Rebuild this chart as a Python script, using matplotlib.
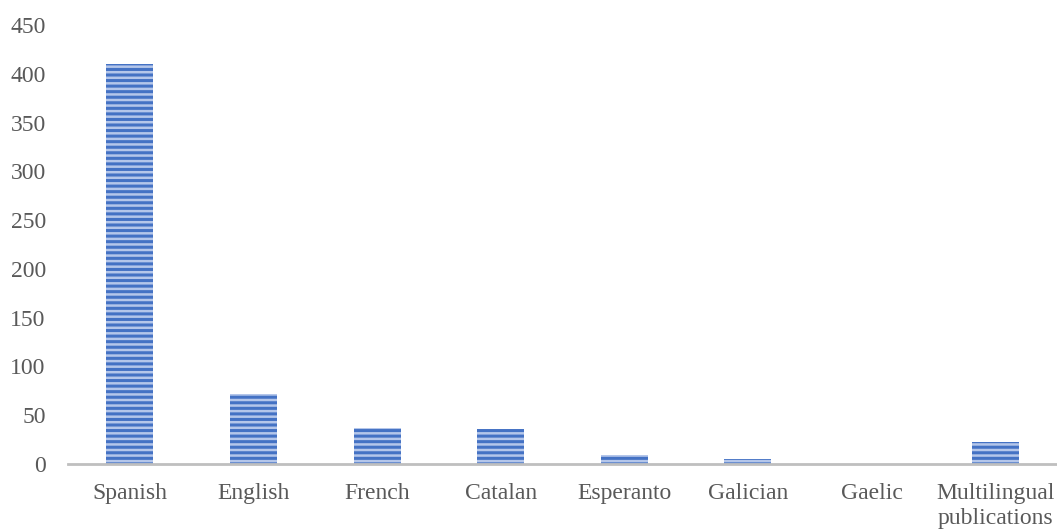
import matplotlib.pyplot as plt

# Publications by language
languages = ['Spanish', 'English', 'French', 'Catalan', 'Esperanto',
             'Galician', 'Gaelic', 'Multilingual\npublications']
counts = [410, 72, 37, 36, 9, 5, 0, 23]
yticks = [0, 50, 100, 150, 200, 250, 300, 350, 400, 450]

plt.rcParams['font.family'] = ['Liberation Serif', 'DejaVu Serif']
plt.rcParams['hatch.linewidth'] = 2.2

fig = plt.figure(figsize=(10.57, 5.30), dpi=100)
ax = fig.add_axes([68 / 1057, 1 - 464 / 530, 1 - 68 / 1057, (464 - 25) / 530])

x = range(len(languages))
ax.bar(x, counts, width=0.38, color='#b4c6ea', edgecolor='#4472C4',
       hatch='---', linewidth=0)

ax.set_xlim(-0.5, len(languages) - 0.5)
ax.set_ylim(0, 450)
ax.set_yticks(yticks)
ax.set_xticks(list(x))
ax.set_xticklabels(languages, linespacing=1.25)

for s in ['top', 'right', 'left']:
    ax.spines[s].set_visible(False)
ax.spines['bottom'].set_color('#BFBFBF')
ax.spines['bottom'].set_linewidth(2)
ax.tick_params(axis='both', length=0, labelsize=17, labelcolor='#595959')
ax.tick_params(axis='x', pad=14)
ax.tick_params(axis='y', pad=16)

fig.savefig('out.png', dpi=100)
